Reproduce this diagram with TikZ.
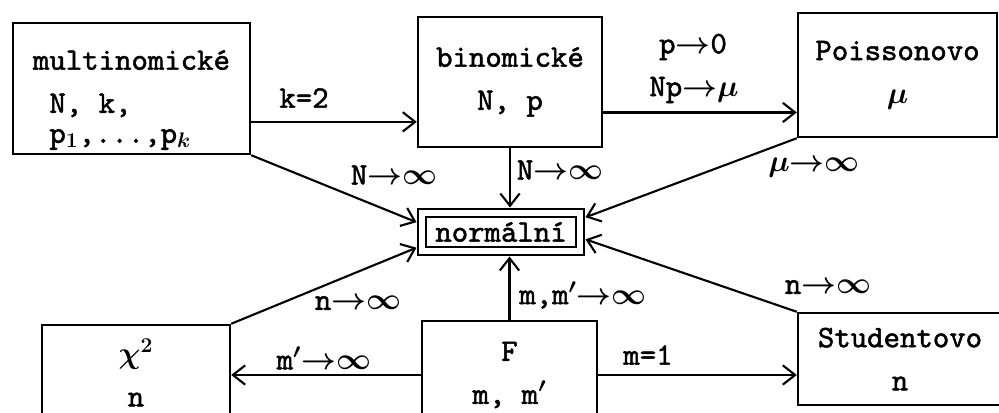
\documentclass[tikz,border=0pt]{standalone}
\usepackage{fontspec}
\setmonofont{lmmono10-regular.otf}[FakeBold=1.6]
\usetikzlibrary{arrows.meta, calc}

\begin{document}
\begin{tikzpicture}[
    x=0.02cm, y=-0.02cm,
    font=\ttfamily\bfseries\boldmath\fontsize{17.8}{24.5}\selectfont,
    box/.style={draw, line width=1.4pt, align=center, inner sep=0pt},
    lbl/.style={inner sep=1pt},
    conn/.style={line width=1.2pt, -{Straight Barb[length=7pt, width=11pt, line width=1.2pt]}},
]
\clip (0,0) rectangle (999,412);

% distributions
\node[box, align=left, minimum width=4.74cm, minimum height=2.62cm] (multi) at (131.5,88.5) {\rule{0pt}{0.85cm}multinomické\\\ N, k,\\[-0.26cm]\ p$_1$,...,p$_k$};
\node[box, minimum width=3.68cm, minimum height=2.6cm] (binom) at (510,82) {binomické\\N, p};
\node[box, minimum width=3.98cm, minimum height=2.48cm] (pois) at (897.5,75) {Poissonovo\\$\mu$};
\node[box, double, double distance=3pt, outer sep=0.11cm, minimum width=3.16cm, minimum height=0.76cm] (norm) at (501,232) {normální};
\node[box, minimum width=3.76cm, minimum height=1.9cm] (chi) at (136,372.5) {$\chi^2$\\n};
\node[box, minimum width=3.5cm, minimum height=2.16cm] (fdist) at (509.5,375) {F\\m, m$'$};
\node[box, minimum width=4.08cm, minimum height=1.84cm] (stud) at (900,359) {Studentovo\\n};

% attachment points of the horizontal arrows
\coordinate (mout) at ($(multi.north east)!0.75!(multi.south east)$);
\coordinate (bout) at ($(binom.north east)!0.73!(binom.south east)$);

% limits
\draw[conn] (mout) -- (mout -| binom.west);
\draw[conn] (bout) -- (bout -| pois.west);
\draw[conn] (multi.south east) -- ($(norm.north west)!0.3!(norm.south west)$);
\draw[conn] (binom.south) -- (binom.south |- norm.north);
\draw[conn] (pois.south west) -- ($(norm.north east)!0.2!(norm.south east)$);
\draw[conn] (chi.north east) -- ($(norm.north west)!0.82!(norm.south west)$);
\draw[conn] (fdist.north) -- (fdist.north |- norm.south);
\draw[conn] (stud.north west) -- ($(norm.north east)!0.65!(norm.south east)$);
\draw[conn] (fdist.west) -- (fdist.west -| chi.east);
\draw[conn] (fdist.east) -- (fdist.east -| stud.west);

% labels
\node[lbl] (lk) at (304,98) {k=2};
\node[lbl] (lp) at (693,47) {p$\rightarrow$0};
\node[lbl] (lnp) at (694,90) {Np$\rightarrow$$\mu$};
\node[lbl] (lnm) at (394,175) {N$\rightarrow$$\infty$};
\node[lbl] (lnb) at (560,170) {N$\rightarrow$$\infty$};
\node[lbl] (lmu) at (814,168) {$\mu$$\rightarrow$$\infty$};
\node[lbl] (lnc) at (358,303) {n$\rightarrow$$\infty$};
\node[lbl] (lmc) at (324,358) {m$'$$\rightarrow$$\infty$};
\node[lbl] (lmm) at (583,295) {m,m$'$$\rightarrow$$\infty$};
\node[lbl] (lm) at (648,355) {m=1};
\node[lbl] (lns) at (828,287) {n$\rightarrow$$\infty$};
\end{tikzpicture}
\end{document}
